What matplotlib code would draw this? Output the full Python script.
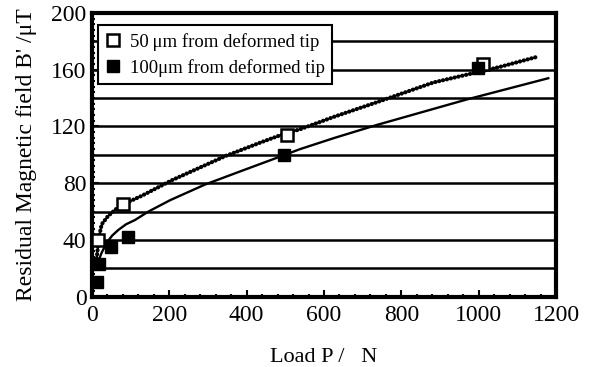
import numpy as np
import matplotlib.pyplot as plt
from matplotlib.ticker import MultipleLocator

# measured points
p50 = [16, 79, 504, 1010]
b50 = [40, 65, 114, 164]
p100 = [12, 18, 48, 93, 497, 999]
b100 = [10, 23, 35, 42, 100, 161]

# fitted curves
fit50_p = [12, 18, 25, 42, 72, 128, 206, 344, 439, 499, 538, 628, 736, 883, 977, 1055, 1150]
fit50_b = [27, 42, 51, 57, 64, 71, 82, 99, 109, 115, 118, 127, 137, 151, 157, 162, 169]
fit100_p = [12, 25, 38, 52, 68, 88, 111, 146, 202, 292, 400, 499, 538, 628, 736, 969, 1180]
fit100_b = [22, 31, 38, 43, 47, 51, 54, 60, 68, 79, 90, 100, 104, 112, 121, 139, 154]

grid_y = np.arange(20, 200, 20)

plt.rcParams['font.family'] = ['Liberation Serif', 'DejaVu Serif']

fig = plt.figure(figsize=(5.91, 3.67), dpi=100)
ax = fig.add_axes([0.1557, 0.1918, 0.7851, 0.7728])

for g in grid_y:
    ax.axhline(g, color='black', lw=1.8, zorder=1)

ax.plot(fit50_p, fit50_b, color='black', lw=3.0, linestyle=(0, (0.05, 0.9)),
        dash_capstyle='round', zorder=2)
ax.plot(fit100_p, fit100_b, color='black', lw=1.7, zorder=2)

ax.plot(p50, b50, 's', ms=8, mfc='white', mec='black', mew=1.8,
        linestyle='none', zorder=3, label='50\u2009\u03bcm from deformed tip')
ax.plot(p100, b100, 's', ms=8.5, mfc='black', mec='black',
        linestyle='none', zorder=3, label='100\u03bcm from deformed tip')

ax.set_xlim(0, 1200)
ax.set_ylim(0, 200)
ax.xaxis.set_major_locator(MultipleLocator(200))
ax.xaxis.set_minor_locator(MultipleLocator(40))
ax.yaxis.set_major_locator(MultipleLocator(40))
ax.yaxis.set_minor_locator(MultipleLocator(4))
ax.tick_params(which='both', direction='in', top=False, right=False,
               labelsize=17, width=1.5)
ax.tick_params(which='major', length=5, pad=4)
ax.tick_params(which='minor', length=2.5)
ax.tick_params(axis='x', pad=6)
for s in ax.spines.values():
    s.set_linewidth(3)

ax.set_xlabel('Load P /   N', fontsize=16, labelpad=16)
ax.set_ylabel("Residual Magnetic field B' /\u03bcT", fontsize=17, labelpad=10)

leg = ax.legend(loc='upper left', bbox_to_anchor=(0.005, 0.97), fontsize=13.5,
                frameon=True, fancybox=False, handlelength=0.8,
                handletextpad=0.5, borderpad=0.4, labelspacing=0.45,
                borderaxespad=0.2)
leg.get_frame().set_edgecolor('black')
leg.get_frame().set_linewidth(1.5)
leg.get_frame().set_alpha(1)

fig.savefig('out.png', dpi=100)
